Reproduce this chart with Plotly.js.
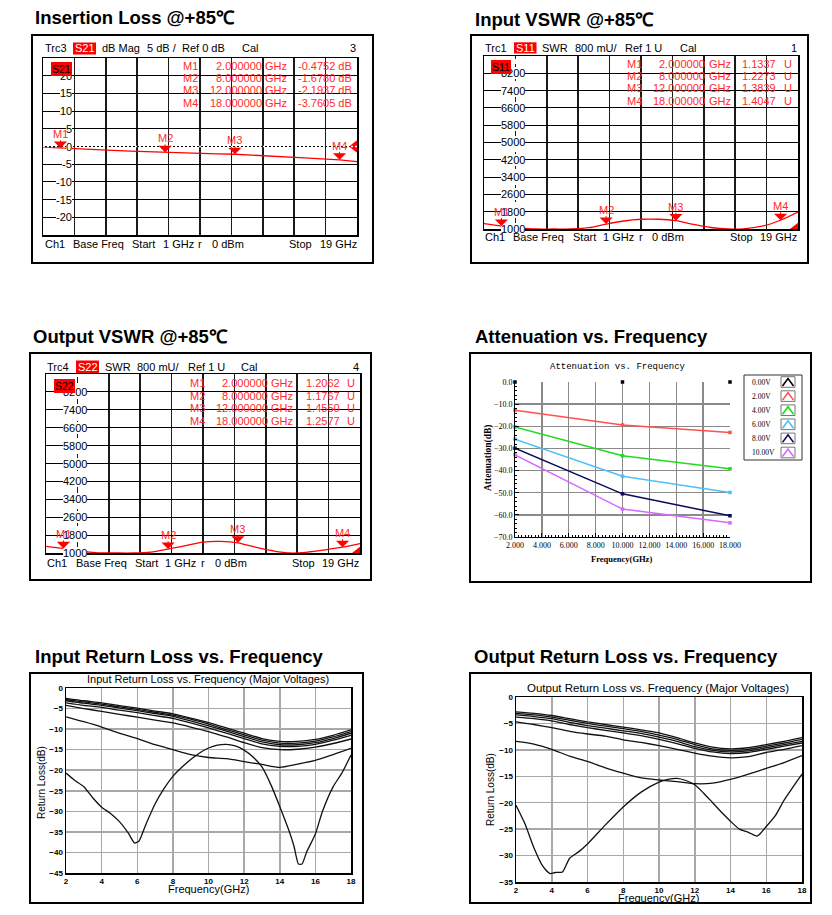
<!DOCTYPE html>
<html><head><meta charset="utf-8">
<script src="https://cdn.plot.ly/plotly-3.0.1.min.js"></script>
<style>html,body{margin:0;padding:0;background:#fff;overflow:hidden}#chart{width:832px;height:915px}</style>
</head><body><div id="chart"></div>
<script>
// ================= DATA =================
const panelTitles = ['Insertion Loss @+85\u2103','Input VSWR @+85\u2103','Output VSWR @+85\u2103','Attenuation vs. Frequency','Input Return Loss vs. Frequency','Output Return Loss vs. Frequency'];

// VNA sweep
const vnaStart = 1, vnaStop = 19;
const markerNames = ['M1','M2','M3','M4'];
const markerFreq = [2, 8, 12, 18];

// Insertion loss (S21, dB)
const ilFreq = [1,2,3,4,5,6,7,8,9,10,11,12,13,14,15,16,17,18,19];
const ilS21  = [-0.2,-0.475,-0.7,-0.9,-1.1,-1.3,-1.5,-1.678,-1.85,-2.0,-2.1,-2.194,-2.4,-2.65,-2.9,-3.2,-3.5,-3.76,-4.3];
const ilMarkerVal = [-0.4752,-1.6780,-2.1937,-3.7605];
const ilRefLevel = 0;
const ilYTicks = [20,15,10,5,0,-5,-10,-15,-20];

// VSWR (U)
const vswrFreq = [1,2,3,4,5,6,7,8,9,10,11,12,13,14,15,16,17,18,19];
const inVswr  = [1.25,1.134,1.05,1.0,1.0,1.0,1.06,1.227,1.37,1.45,1.45,1.384,1.21,1.07,1.0,1.02,1.14,1.405,1.78];
const inMarkerVal = [1.1337,1.2273,1.3839,1.4047];
const outVswr = [1.30,1.206,1.08,1.01,1.0,1.0,1.04,1.177,1.33,1.49,1.52,1.455,1.26,1.10,1.0,1.04,1.14,1.258,1.42];
const outMarkerVal = [1.2062,1.1767,1.4550,1.2577];
const vswrRef = 1;
const vswrTickVals = [8.2,7.4,6.6,5.8,5.0,4.2,3.4,2.6,1.8,1.0];
const vswrTickText = ['8200','7400','6600','5800','5000','4200','3400','2600','1800','1000'];

// Attenuation vs frequency
const attFreq = [2, 10, 18];
const att0V  = [0, 0, 0];
const att2V  = [-12.7, -19.4, -22.8];
const att4V  = [-20.3, -33.3, -39.2];
const att6V  = [-25.8, -42.6, -49.9];
const att8V  = [-29.9, -50.5, -60.4];
const att10V = [-32.9, -57.4, -63.6];
const attLabels = ['0.00V','2.00V','4.00V','6.00V','8.00V','10.00V'];

// Input return loss (dB)
const inRLFreq = [2,3,4,5,6,7,8,9,10,11,12,13,14,15,16,17,18];
const inRL_A = [-2.5,-3.1,-3.6,-4.3,-4.9,-5.6,-6.3,-7.3,-8.4,-9.7,-11.0,-12.3,-13.0,-13.0,-12.5,-11.5,-10.2];
const inRL_B = [-2.8,-3.4,-3.9,-4.6,-5.2,-5.9,-6.6,-7.6,-8.8,-10.1,-11.4,-12.7,-13.4,-13.4,-12.9,-11.9,-10.6];
const inRL_C = [-3.1,-3.7,-4.2,-4.9,-5.5,-6.2,-6.9,-8.0,-9.2,-10.5,-11.8,-13.1,-13.8,-13.8,-13.3,-12.3,-11.0];
const inRL_D = [-3.6,-4.2,-4.7,-5.4,-6.0,-6.7,-7.4,-8.5,-9.7,-11.0,-12.3,-13.6,-14.2,-14.2,-13.7,-12.7,-11.5];
const inRL_E = [-4.2,-5.0,-5.7,-6.4,-7.1,-7.8,-8.5,-9.5,-10.6,-11.9,-13.3,-14.5,-15.0,-14.9,-14.4,-13.5,-12.4];
const inRL_F = [-7.0,-8.2,-9.5,-11.0,-12.3,-13.8,-15.0,-16.2,-16.9,-17.2,-17.9,-18.6,-19.3,-18.5,-17.6,-16.2,-14.7];
const inRLDeepFreq = [2,2.5,3,3.5,4,4.5,5,5.5,5.85,6.1,6.5,7,7.5,8,8.5,9,9.5,10,10.5,11,11.5,12,12.5,13,13.5,14,14.5,14.8,15.05,15.25,15.5,16,16.4,17,17.5,18];
const inRLDeep = [-20.7,-22.5,-24,-26.7,-29,-30.5,-32.5,-35.3,-37.7,-37.2,-33,-28.2,-24.5,-21.5,-19.3,-17.4,-15.8,-14.6,-13.9,-13.7,-14.1,-15.1,-16.8,-19.2,-23.5,-28.8,-34.5,-38.5,-42.8,-42.8,-40,-35.5,-30,-24,-20.6,-16.3];

// Output return loss (dB)
const outRLFreq = [2,3,4,5,6,7,8,9,10,11,12,13,14,15,16,17,18];
const outRL_A = [-2.8,-3.1,-3.5,-4.1,-4.7,-5.2,-5.7,-6.2,-6.8,-7.7,-8.7,-9.5,-9.8,-9.6,-9.0,-8.4,-7.7];
const outRL_B = [-3.1,-3.4,-3.8,-4.4,-5.0,-5.5,-6.0,-6.5,-7.2,-8.0,-9.0,-9.8,-10.1,-9.9,-9.3,-8.7,-8.0];
const outRL_C = [-3.4,-3.7,-4.1,-4.8,-5.4,-5.9,-6.4,-6.9,-7.6,-8.4,-9.4,-10.1,-10.4,-10.2,-9.6,-9.0,-8.4];
const outRL_D = [-3.8,-4.1,-4.5,-5.2,-5.8,-6.3,-6.8,-7.3,-8.0,-8.8,-9.7,-10.4,-10.7,-10.5,-9.9,-9.3,-8.7];
const outRL_E = [-4.7,-5.2,-5.8,-6.5,-7.0,-7.4,-8.1,-8.6,-9.2,-9.9,-10.6,-11.2,-11.5,-11.3,-10.5,-9.9,-9.2];
const outRL_F = [-8.4,-8.9,-9.9,-11.2,-12.2,-13.4,-14.4,-15.3,-15.7,-16.0,-16.4,-16.3,-15.6,-14.6,-13.5,-12.4,-11.1];
const outRLDeepFreq = [2,2.5,3,3.5,3.9,4.2,4.6,5,5.5,6,7,8,9,10,10.5,11,11.5,12,12.5,13,13.5,14,14.5,15,15.5,16,16.5,17,17.5,18];
const outRLDeep = [-20.5,-24,-28.5,-32,-33.4,-33.2,-33.1,-30.5,-29.3,-27.8,-24.2,-20.8,-18,-16.1,-15.6,-15.4,-15.8,-16.6,-18.2,-20,-21.8,-23.5,-25,-25.6,-26.3,-24.5,-22.5,-19.5,-17,-14.6];

// ================= BUILD =================
const W = 832, H = 915;
const px = x => x / W;
const py = y => 1 - y / H;
const FONT = 'Liberation Sans, Arial, Helvetica, sans-serif';
const SERIF = 'Liberation Serif, Times New Roman, serif';
const MONO = 'Liberation Mono, Courier New, monospace';
const RED = '#ff0000';

const traces = [];
const ann = [];
const shp = [];
const layout = {width:W, height:H, margin:{l:0,r:0,t:0,b:0,pad:0}, paper_bgcolor:'#fff', plot_bgcolor:'#fff',
  showlegend:false, font:{family:FONT}, annotations:ann, shapes:shp};

function textAt(x, y, text, o) {
  o = o || {};
  ann.push({xref:'paper', yref:'paper', x:px(x), y:py(y), text:text, showarrow:false,
    xanchor:o.anchor || 'left', yanchor:'middle', borderpad:o.pad || 0, borderwidth:0,
    bgcolor:o.bg || 'rgba(0,0,0,0)', textangle:o.angle || 0,
    font:{family:o.family || FONT, size:o.size || 11, color:o.color || '#000', weight:o.weight || 'normal'}});
}
function rectPx(r, line, fill) {
  shp.push({type:'rect', xref:'paper', yref:'paper', x0:px(r[0]), x1:px(r[1]), y0:py(r[3]), y1:py(r[2]),
    line:line, fillcolor:fill || 'rgba(0,0,0,0)'});
}

// big titles
const titlePos = [[35,18],[475,19],[33,336.5],[475,336],[35,656],[474,656.5]];
panelTitles.forEach((t,i) => textAt(titlePos[i][0], titlePos[i][1], t, {size:18.5, weight:'bold'}));

function vnaPanel(n, c) {
  const sfx = n === 1 ? '' : String(n);
  const xr = 'x' + sfx, yr = 'y' + sfx;
  const div = (vnaStop - vnaStart) / 10;
  layout['xaxis' + sfx] = {domain:[px(c.plot[0]), px(c.plot[1])], anchor:yr, range:[vnaStart, vnaStop],
    tick0:vnaStart, dtick:div, showgrid:true, gridcolor:'#1a1a1a', gridwidth:1.5, zeroline:false,
    showline:true, mirror:true, linecolor:'#000', linewidth:1.5, showticklabels:false, ticks:'', fixedrange:true};
  layout['yaxis' + sfx] = {domain:[py(c.plot[3]), py(c.plot[2])], anchor:xr, range:c.yRange,
    tick0:c.yRange[0], dtick:c.yDiv, showgrid:true, gridcolor:'#000', gridwidth:1, zeroline:false,
    showline:true, mirror:true, linecolor:'#000', linewidth:1.5, showticklabels:false, ticks:'', fixedrange:true};
  rectPx(c.box, {color:'#000', width:2});
  if (c.dashedFirst) shp.push({type:'line', xref:xr, yref:yr + ' domain', x0:vnaStart + div, x1:vnaStart + div,
    y0:0, y1:1, line:{color:'#fff', width:2.5, dash:'5px,6px'}});
  if (c.dottedRef) shp.push({type:'line', xref:xr + ' domain', yref:yr, x0:0, x1:1, y0:c.ref, y1:c.ref,
    line:{color:'#fff', width:1.6, dash:'2px,2px'}});
  traces.push({type:'scatter', mode:'lines', x:c.fx, y:c.fy, xaxis:xr, yaxis:yr,
    line:{color:RED, width:1.3, shape:c.spline ? 'spline' : 'linear', smoothing:0.9}, hoverinfo:'skip'});
  traces.push({type:'scatter', mode:'markers', x:[vnaStop], y:[c.ref], xaxis:xr, yaxis:yr,
    marker:{symbol:'triangle-left', size:16, color:RED}, cliponaxis:true, hoverinfo:'skip'});
  // y tick labels (inside, with white background)
  c.tickVals.forEach((v, i) => ann.push({xref:'paper', yref:yr, x:px(c.tickRight), y:v, text:c.tickText[i],
    xanchor:'right', yanchor:'middle', showarrow:false, bgcolor:'#fff', borderpad:0, borderwidth:0,
    font:{family:FONT, size:11, color:'#000'}}));
  // marker triangles + labels
  markerNames.forEach((name, i) => ann.push({xref:xr, yref:yr, x:markerFreq[i], y:c.mVal[i], text:name,
    showarrow:true, arrowhead:1, arrowsize:2.2, arrowwidth:1, arrowcolor:RED, ax:0, ay:-14, standoff:0,
    borderpad:0, borderwidth:0, font:{family:FONT, size:11, color:'#ff2a2a'}}));
  // header
  c.header.forEach(h => textAt(h[1], c.headerY, h[0]));
  rectPx(c.hdrBox, {width:0}, RED);
  textAt((c.hdrBox[0] + c.hdrBox[1]) / 2, (c.hdrBox[2] + c.hdrBox[3]) / 2, c.sParam, {anchor:'center', color:'#fff'});
  // trace label inside the grid (drawn last so it sits on top)
  textAt(c.innerLbl[0], c.innerLbl[1], c.sParam, {anchor:'center', color:'#000', bg:RED, size:10.5, pad:1});
  // footer
  c.footer.forEach(f => textAt(f[1], c.footerY, f[0]));
  // marker table
  const t = c.table;
  markerNames.forEach((name, i) => {
    const y = t.y0 + i * t.dy;
    textAt(t.name, y, name, {color:'#ff2a2a'});
    textAt(t.freqR, y, markerFreq[i].toFixed(6), {color:'#ff2a2a', anchor:'right'});
    textAt(t.ghz, y, 'GHz', {color:'#ff2a2a'});
    textAt(t.valR, y, c.mVal[i].toFixed(4) + (t.unit ? '' : ' dB'), {color:'#ff2a2a', anchor:'right'});
    if (t.unit) textAt(t.unit, y, 'U', {color:'#ff2a2a'});
  });
}

vnaPanel(1, {plot:[43,357,58,235], box:[32,373,35,263], yRange:[-25,25], yDiv:5,
  fx:ilFreq, fy:ilS21, spline:false, mVal:ilMarkerVal, ref:ilRefLevel,
  tickVals:ilYTicks, tickText:ilYTicks.map(String), tickRight:72, dashedFirst:false, dottedRef:true,
  headerY:48, header:[['Trc3',45],['dB Mag',102],['5 dB /',147],['Ref 0 dB',182],['Cal',242],['3',350]],
  hdrBox:[73,96,42.5,54.5], sParam:'S21', innerLbl:[61.5,68.5],
  footerY:244, footer:[['Ch1',45],['Base Freq',73],['Start',132],['1 GHz',163],['r',198],['0 dBm',212],['Stop',289],['19 GHz',320]],
  table:{name:183, freqR:262, ghz:265, valR:352, unit:null, y0:65.7, dy:12.3}});

vnaPanel(2, {plot:[484,798,56,229], box:[471,808,35,263], yRange:[1,9], yDiv:0.8,
  fx:vswrFreq, fy:inVswr, spline:true, mVal:inMarkerVal, ref:vswrRef,
  tickVals:vswrTickVals, tickText:vswrTickText, tickRight:525, dashedFirst:true, dottedRef:false,
  headerY:48, header:[['Trc1',485],['SWR',542],['800 mU/',575],['Ref 1 U',625],['Cal',680],['1',791]],
  hdrBox:[514,536.5,42.3,53.5], sParam:'S11', innerLbl:[501,66.5],
  footerY:237, footer:[['Ch1',485],['Base Freq',513],['Start',573],['1 GHz',603],['r',639],['0 dBm',652],['Stop',730],['19 GHz',760]],
  table:{name:627, freqR:705, ghz:709, valR:776, unit:784, y0:64, dy:12.2}});

vnaPanel(3, {plot:[46,360,374,553], box:[30,371,353,580], yRange:[1,9], yDiv:0.8,
  fx:vswrFreq, fy:outVswr, spline:true, mVal:outMarkerVal, ref:vswrRef,
  tickVals:vswrTickVals, tickText:vswrTickText, tickRight:87, dashedFirst:true, dottedRef:false,
  headerY:367, header:[['Trc4',47],['SWR',105],['800 mU/',137],['Ref 1 U',188],['Cal',241],['4',353]],
  hdrBox:[76,99,360.5,373], sParam:'S22', innerLbl:[64.5,385.8],
  footerY:563, footer:[['Ch1',47],['Base Freq',76],['Start',135],['1 GHz',165],['r',201],['0 dBm',215],['Stop',292],['19 GHz',322]],
  table:{name:190, freqR:268, ghz:271, valR:340, unit:347, y0:383.3, dy:12.4}});

// ---------- Attenuation panel ----------
(function(){
  const series = [att0V, att2V, att4V, att6V, att8V, att10V];
  const colors = ['#000000','#ff5050','#1edc1e','#4cc0ff','#0a0a5a','#d966ff'];
  layout.xaxis4 = {domain:[px(515), px(730)], anchor:'y4', range:[2,18], tick0:2, dtick:2, tickformat:'.3f',
    showgrid:true, gridcolor:'#8a8a8a', gridwidth:1.3, zeroline:false, showline:true, linecolor:'#000', linewidth:1,
    ticks:'inside', ticklen:4, tickcolor:'#000', tickfont:{family:SERIF, size:8, color:'#000'},
    minor:{dtick:0.25, ticks:'inside', ticklen:2, tickcolor:'#000', showgrid:false}, fixedrange:true};
  layout.yaxis4 = {domain:[py(537), py(382)], anchor:'x4', range:[-70,0], tick0:0, dtick:10, tickformat:'.1f',
    showgrid:true, gridcolor:'#8a8a8a', gridwidth:1.3, zeroline:false, showline:true, linecolor:'#000', linewidth:1,
    ticks:'inside', ticklen:4, tickcolor:'#000', tickfont:{family:SERIF, size:8, color:'#000'},
    minor:{dtick:2, ticks:'inside', ticklen:2, tickcolor:'#000', showgrid:false}, fixedrange:true};
  series.forEach((s, i) => traces.push({type:'scatter', mode: i === 0 ? 'markers' : 'lines+markers',
    x:attFreq, y:s, xaxis:'x4', yaxis:'y4', cliponaxis:false,
    line:{color:colors[i], width:1.5}, marker:{symbol:'square', size:3.5, color:colors[i]}, hoverinfo:'skip'}));
  rectPx([470,811,353,582], {color:'#000', width:2});
  textAt(618, 367, 'Attenuation vs. Frequency', {anchor:'center', family:MONO, size:9});
  textAt(489, 458, 'Attenuation(dB)', {anchor:'center', family:SERIF, size:9.5, weight:'bold', angle:-90});
  textAt(621, 559, 'Frequency(GHz)', {anchor:'center', family:SERIF, size:8.5, weight:'bold'});
  // legend
  rectPx([744,802,375,460], {color:'#333', width:1});
  attLabels.forEach((lab, i) => {
    const y = 382 + i * 14.1;
    textAt(752, y, lab, {family:SERIF, size:7.5});
    rectPx([781,795,y - 5.3,y + 5.3], {color:'#777', width:1});
    shp.push({type:'path', xref:'paper', yref:'paper',
      path:'M' + px(782.5) + ',' + py(y + 4) + ' L' + px(788) + ',' + py(y - 3.5) + ' L' + px(793.5) + ',' + py(y + 4),
      line:{color:colors[i], width:1.6}});
  });
})();

// ---------- Return loss panels ----------
function rlPanel(n, c) {
  const xr = 'x' + n, yr = 'y' + n;
  layout['xaxis' + n] = {domain:[px(c.plot[0]), px(c.plot[1])], anchor:yr, range:[2,18], tick0:2, dtick:2,
    showgrid:true, gridcolor:'#a8a8a8', gridwidth:1.5, zeroline:false, showline:true, mirror:true,
    linecolor:'#000', linewidth:1.5, ticks:'', tickfont:{family:FONT, size:8, weight:'bold', color:'#000'}, fixedrange:true};
  layout['yaxis' + n] = {domain:[py(c.plot[3]), py(c.plot[2])], anchor:xr, range:[c.yMin, 0], tick0:0, dtick:5,
    showgrid:true, gridcolor:'#a8a8a8', gridwidth:1.5, zeroline:false, showline:true, mirror:true,
    linecolor:'#000', linewidth:1.5, ticks:'', tickfont:{family:FONT, size:8, weight:'bold', color:'#000'}, fixedrange:true};
  c.curves.forEach(cv => traces.push({type:'scatter', mode:'lines', x:cv[0], y:cv[1], xaxis:xr, yaxis:yr,
    line:{color:'#111', width:1.3, shape:'spline', smoothing:0.6}, hoverinfo:'skip'}));
  rectPx(c.box, {color:'#000', width:2});
  textAt(c.inner[0], c.inner[1], c.innerText, {anchor:'center', size:c.innerSize});
  textAt(c.ytitle[0], c.ytitle[1], 'Return Loss(dB)', {anchor:'center', size:10, angle:-90});
  textAt(c.xtitle[0], c.xtitle[1], 'Frequency(GHz)', {anchor:'center', size:11});
}
rlPanel(5, {plot:[66,351,688,873], box:[30,363,673,903], yMin:-45,
  curves:[[inRLFreq,inRL_A],[inRLFreq,inRL_B],[inRLFreq,inRL_C],[inRLFreq,inRL_D],[inRLFreq,inRL_E],[inRLFreq,inRL_F],[inRLDeepFreq,inRLDeep]],
  inner:[208,679], innerText:'Input Return Loss vs. Frequency (Major Voltages)', innerSize:11,
  ytitle:[41,783], xtitle:[208,889]});
rlPanel(6, {plot:[516,802,697,882], box:[470,811,673,903], yMin:-35,
  curves:[[outRLFreq,outRL_A],[outRLFreq,outRL_B],[outRLFreq,outRL_C],[outRLFreq,outRL_D],[outRLFreq,outRL_E],[outRLFreq,outRL_F],[outRLDeepFreq,outRLDeep]],
  inner:[658,688], innerText:'Output Return Loss vs. Frequency (Major Voltages)', innerSize:11.5,
  ytitle:[490,790], xtitle:[658,898]});

Plotly.newPlot('chart', traces, layout, {staticPlot:true, displayModeBar:false});
</script></body></html>
